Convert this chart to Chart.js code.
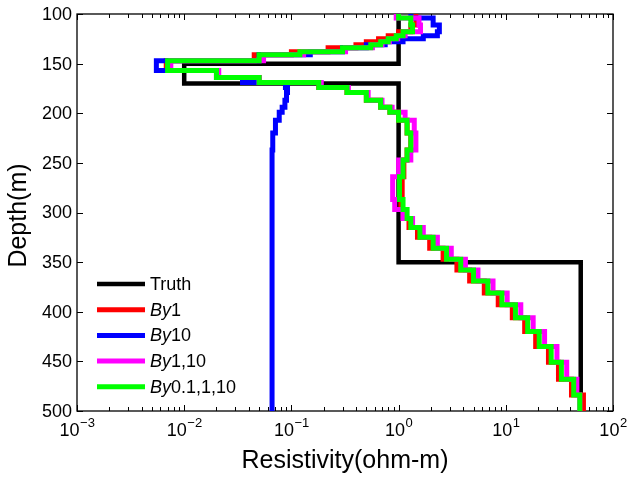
<!DOCTYPE html>
<html><head><meta charset="utf-8">
<script src="https://cdn.jsdelivr.net/npm/chart.js@4/dist/chart.umd.min.js"></script>
<style>html,body{margin:0;padding:0;background:#fff}canvas{display:block}</style>
</head><body>
<canvas id="c" width="628" height="477"></canvas>
<script>
// ---------- data ----------
const seriesLabels = ['Truth', 'By1', 'By10', 'By1,10', 'By0.1,1,10'];
const seriesColors = ['#000000', '#ff0000', '#0000ff', '#ff00ff', '#00ff00'];

const truthTops = [100, 150, 170, 350];
const truthRes  = [1, 0.01, 1, 50];

const layerTops = [100,104,111,118,122,125,128,131,134,138,141,147,157,164,169,174,179,187,194,199,207,220,237,247,264,287,297,306,315,325,336,347,358,369,381,393,406,420,435,451,468,484];
const resBy1 = [1.45,1.45,1.3,1.0,0.8,0.65,0.5,0.4,0.22,0.1,0.045,0.0068,0.02,0.05,0.18,0.33,0.5,0.68,0.83,1.0,1.2,1.3,1.2,1.12,1.08,1.05,1.15,1.25,1.5,1.95,2.6,3.5,4.6,6.3,8.5,11.5,15,19,25,31,41,53];
const resBy10 = [1.3,2.1,2.4,2.3,1.7,1.1,0.75,0.5,0.3,0.15,0.05,0.0055,0.02,0.035,0.088,0.092,0.09,0.087,0.082,0.077,0.071,0.067,0.066,0.066,0.066,0.066,0.066,0.066,0.066,0.066,0.066,0.066,0.066,0.066,0.066,0.066,0.066,0.066,0.066,0.066,0.066,0.066];
const resBy1_10 = [0.95,1.55,1.6,1.15,0.98,0.82,0.7,0.57,0.32,0.13,0.055,0.0075,0.021,0.05,0.19,0.34,0.52,0.7,0.87,1.15,1.4,1.45,1.3,1.0,0.88,0.92,1.1,1.35,1.7,2.3,3.1,4.2,5.5,7.6,10.3,13.8,18,23,30,37,46,49];
const resBy01_1_10 = [1.0,1.3,1.35,1.1,0.95,0.8,0.68,0.55,0.3,0.12,0.05,0.007,0.02,0.05,0.18,0.33,0.5,0.68,0.83,1.0,1.2,1.3,1.2,1.1,1.02,1.1,1.2,1.3,1.58,2.1,2.8,3.8,5.0,6.8,9.2,12.3,16,20.5,26.5,33,43,49];

const depthMin = 100, depthMax = 500;
const depthTicks = [100,150,200,250,300,350,400,450,500];
const depthTickLabels = ['100','150','200','250','300','350','400','450','500'];
const resTickExps = [-3,-2,-1,0,1,2];
const xTitle = 'Resistivity(ohm-m)';
const yTitle = 'Depth(m)';

// ---------- build ----------
function profile(tops, vals) {
  const pts = tops.map((d, i) => ({x: vals[i], y: d}));
  pts.push({x: vals[vals.length - 1], y: depthMax});
  return pts;
}
const allSeries = [
  profile(truthTops, truthRes),
  profile(layerTops, resBy1),
  profile(layerTops, resBy10),
  profile(layerTops, resBy1_10),
  profile(layerTops, resBy01_1_10)
];
const widths = [4.5, 5, 5, 5, 5];

const FONT = "'Liberation Sans', Arial, Helvetica, sans-serif";

const matlabAxes = {
  id: 'matlabAxes',
  beforeDatasetsDraw(chart) {
    const ctx = chart.ctx, a = chart.chartArea;
    const xs = chart.scales.x, ys = chart.scales.y;
    ctx.save();
    ctx.strokeStyle = '#000';
    ctx.lineWidth = 1.3;
    ctx.strokeRect(a.left, a.top, a.right - a.left, a.bottom - a.top);
    ctx.lineWidth = 1;
    ctx.beginPath();
    depthTicks.forEach(d => {
      const y = Math.round(ys.getPixelForValue(d)) + 0.5;
      ctx.moveTo(a.left, y); ctx.lineTo(a.left + 6, y);
      ctx.moveTo(a.right, y); ctx.lineTo(a.right - 6, y);
    });
    for (let k = resTickExps[0]; k <= resTickExps[resTickExps.length - 1]; k++) {
      for (let m = 1; m <= 9; m++) {
        if (k === resTickExps[resTickExps.length - 1] && m > 1) break;
        const x = Math.round(xs.getPixelForValue(m * Math.pow(10, k))) + 0.5;
        const len = m === 1 ? 6 : 4;
        ctx.moveTo(x, a.bottom); ctx.lineTo(x, a.bottom - len);
        ctx.moveTo(x, a.top); ctx.lineTo(x, a.top + len);
      }
    }
    ctx.stroke();
    ctx.restore();
  },
  afterDraw(chart) {
    const ctx = chart.ctx, a = chart.chartArea;
    const xs = chart.scales.x, ys = chart.scales.y;
    ctx.save();
    ctx.fillStyle = '#000';
    ctx.font = '18px ' + FONT;
    ctx.textAlign = 'right';
    ctx.textBaseline = 'middle';
    depthTicks.forEach((d, i) => {
      ctx.fillText(depthTickLabels[i], a.left - 5, ys.getPixelForValue(d) + 1);
    });
    ctx.textBaseline = 'alphabetic';
    resTickExps.forEach(k => {
      const x = xs.getPixelForValue(Math.pow(10, k));
      ctx.font = '18px ' + FONT;
      const wb = ctx.measureText('10').width;
      ctx.font = '13px ' + FONT;
      const es = String(k).replace('-', '\u2212');
      const we = ctx.measureText(es).width;
      const x0 = x - (wb + we) / 2;
      ctx.textAlign = 'left';
      ctx.font = '18px ' + FONT;
      ctx.fillText('10', x0, a.bottom + 25);
      ctx.font = '13px ' + FONT;
      ctx.fillText(es, x0 + wb + 0.5, a.bottom + 16);
    });
    ctx.font = '25px ' + FONT;
    ctx.textAlign = 'center';
    ctx.fillText(xTitle, (a.left + a.right) / 2, 468);
    ctx.save();
    ctx.translate(26, (a.top + a.bottom) / 2 + 3);
    ctx.rotate(-Math.PI / 2);
    ctx.fillText(yTitle, 0, 0);
    ctx.restore();
    const lx0 = 97, lx1 = 145, tx = 150, ly0 = 284, dy = 25.7;
    chart.data.datasets.forEach((ds, i) => {
      const y = ly0 + i * dy;
      ctx.strokeStyle = ds.borderColor;
      ctx.lineWidth = ds.borderWidth;
      ctx.beginPath(); ctx.moveTo(lx0, y); ctx.lineTo(lx1, y); ctx.stroke();
      ctx.textAlign = 'left';
      ctx.textBaseline = 'middle';
      let x = tx;
      let rest = ds.label;
      if (rest.startsWith('By')) {
        ctx.font = 'italic 18px ' + FONT;
        ctx.fillText('By', x, y + 1);
        x += ctx.measureText('By').width;
        rest = rest.slice(2);
      }
      ctx.font = '18px ' + FONT;
      ctx.fillText(rest, x, y + 1);
    });
    ctx.restore();
  }
};

new Chart(document.getElementById('c'), {
  type: 'line',
  data: {
    datasets: allSeries.map((pts, i) => ({
      label: seriesLabels[i],
      data: pts,
      borderColor: seriesColors[i],
      backgroundColor: seriesColors[i],
      borderWidth: widths[i],
      stepped: 'after',
      pointRadius: 0,
      fill: false,
      tension: 0,
      order: seriesLabels.length - i,
      clip: 0
    }))
  },
  options: {
    responsive: false,
    animation: false,
    devicePixelRatio: 1,
    layout: {padding: {left: 77, top: 14, right: 15, bottom: 66}},
    plugins: {legend: {display: false}, tooltip: {enabled: false}},
    scales: {
      x: {type: 'logarithmic', min: 0.001, max: 100, display: false},
      y: {type: 'linear', min: depthMin, max: depthMax, reverse: true, display: false}
    }
  },
  plugins: [matlabAxes]
});
</script>
</body></html>
